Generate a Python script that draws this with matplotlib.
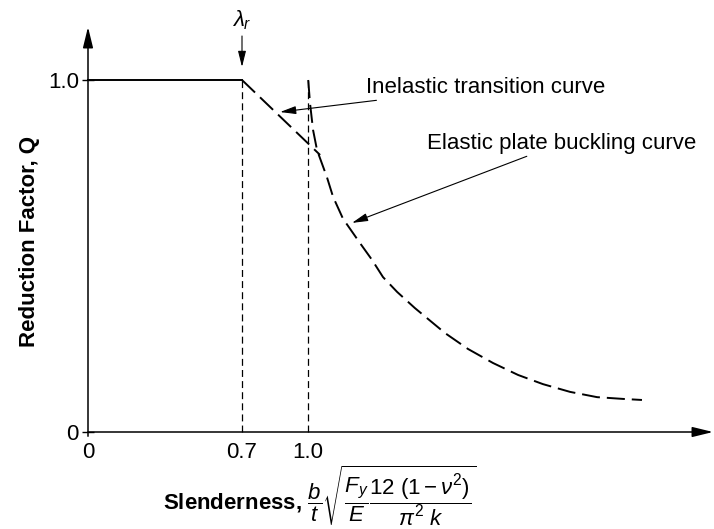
import numpy as np
import matplotlib
matplotlib.use("Agg")
import matplotlib.pyplot as plt

plt.rcParams['font.family'] = ['Liberation Sans', 'DejaVu Sans']
plt.rcParams['mathtext.fontset'] = 'custom'
plt.rcParams['mathtext.rm'] = 'Liberation Sans'
plt.rcParams['mathtext.it'] = 'Liberation Sans:italic'
plt.rcParams['mathtext.bf'] = 'Liberation Sans:bold'
plt.rcParams['lines.scale_dashes'] = False

# plateau (Q = 1 up to lambda_r)
plateau_x = [0.0, 0.7]
plateau_q = [1.0, 1.0]

# inelastic transition (straight line)
inelastic_x = [0.7, 1.055]
inelastic_q = [1.0, 0.787]

# elastic plate buckling curve
elastic_x = [1.001, 1.009, 1.023, 1.041, 1.086, 1.114, 1.159, 1.236, 1.291, 1.341,
             1.405, 1.486, 1.623, 1.727, 1.841, 1.955, 2.068, 2.191, 2.314, 2.432, 2.518]
elastic_q = [1.0, 0.935, 0.858, 0.801, 0.724, 0.668, 0.606, 0.537, 0.489, 0.440,
             0.398, 0.352, 0.281, 0.236, 0.196, 0.162, 0.136, 0.114, 0.099, 0.094, 0.091]

xticks = [0.0, 0.7, 1.0]
xticklabels = ['0', '0.7', '1.0']
yticks = [0.0, 1.0]
yticklabels = ['0', '1.0']

W, H = 714, 529
fig = plt.figure(figsize=(W / 100, H / 100), dpi=100)
ax = fig.add_axes([88 / W, 1 - 432 / H, 625 / W, 405 / H])
xmax = 625 / 220
ymax = 405 / 352
ax.set_xlim(0, xmax)
ax.set_ylim(0, ymax)
for s in ax.spines.values():
    s.set_visible(False)

fs = 16

# axes with arrows
arrow = dict(arrowstyle='-|>,head_length=0.9,head_width=0.22', color='black', lw=1.1,
             shrinkA=0, shrinkB=0, mutation_scale=14)
ax.annotate('', xy=(xmax, 0), xytext=(0, 0), arrowprops=arrow, annotation_clip=False)
ax.annotate('', xy=(0, ymax), xytext=(0, -0.012), arrowprops=arrow, annotation_clip=False)

ax.set_xticks(xticks)
ax.set_xticklabels(xticklabels)
ax.set_yticks(yticks)
ax.set_yticklabels(yticklabels)
ax.tick_params(axis='x', direction='inout', length=0, pad=7, labelsize=fs)
ax.tick_params(axis='y', direction='inout', length=9, width=1, pad=2, labelsize=fs)

# guides
for xv in [0.7, 1.0]:
    ax.plot([xv, xv], [0, 1.0], color='black', lw=0.9, dashes=(5, 3), clip_on=False)

# curves
ax.plot(plateau_x, plateau_q, color='black', lw=1.4, clip_on=False)
ax.plot(inelastic_x, inelastic_q, color='black', lw=1.4, dashes=(13, 5), clip_on=False)
ax.plot(elastic_x, elastic_q, color='black', lw=1.4, dashes=(13, 5), clip_on=False)

# lambda_r marker
ax.text(0.7, 1.17, r'$\lambda_r$', ha='center', va='center', fontsize=fs)
small = dict(arrowstyle='-|>,head_length=0.8,head_width=0.2', color='black', lw=0.8,
             shrinkA=0, shrinkB=0, mutation_scale=12)
ax.annotate('', xy=(0.7, 1.037), xytext=(0.7, 1.125), arrowprops=small, annotation_clip=False)

# callouts
ax.annotate('Inelastic transition curve', xy=(0.873, 0.909), xytext=(1.264, 0.98),
            va='center', ha='left', fontsize=fs, arrowprops=small)
ax.annotate('Elastic plate buckling curve', xy=(1.2, 0.594), xytext=(1.541, 0.821),
            va='center', ha='left', fontsize=fs, arrowprops=small)

fig.text(30 / W, 1 - 242 / H, 'Reduction Factor, Q', rotation=90, ha='center', va='center',
         fontsize=fs, fontweight='bold')
fig.text(163 / W, 1 - 496 / H,
         r'Slenderness, $\dfrac{b}{t}\sqrt{\dfrac{F_y}{E}\dfrac{12\ (1-\nu^2)}{\pi^2\ k}}$',
         ha='left', va='center', fontsize=fs, fontweight='bold')

fig.savefig('out.png', dpi=100)
